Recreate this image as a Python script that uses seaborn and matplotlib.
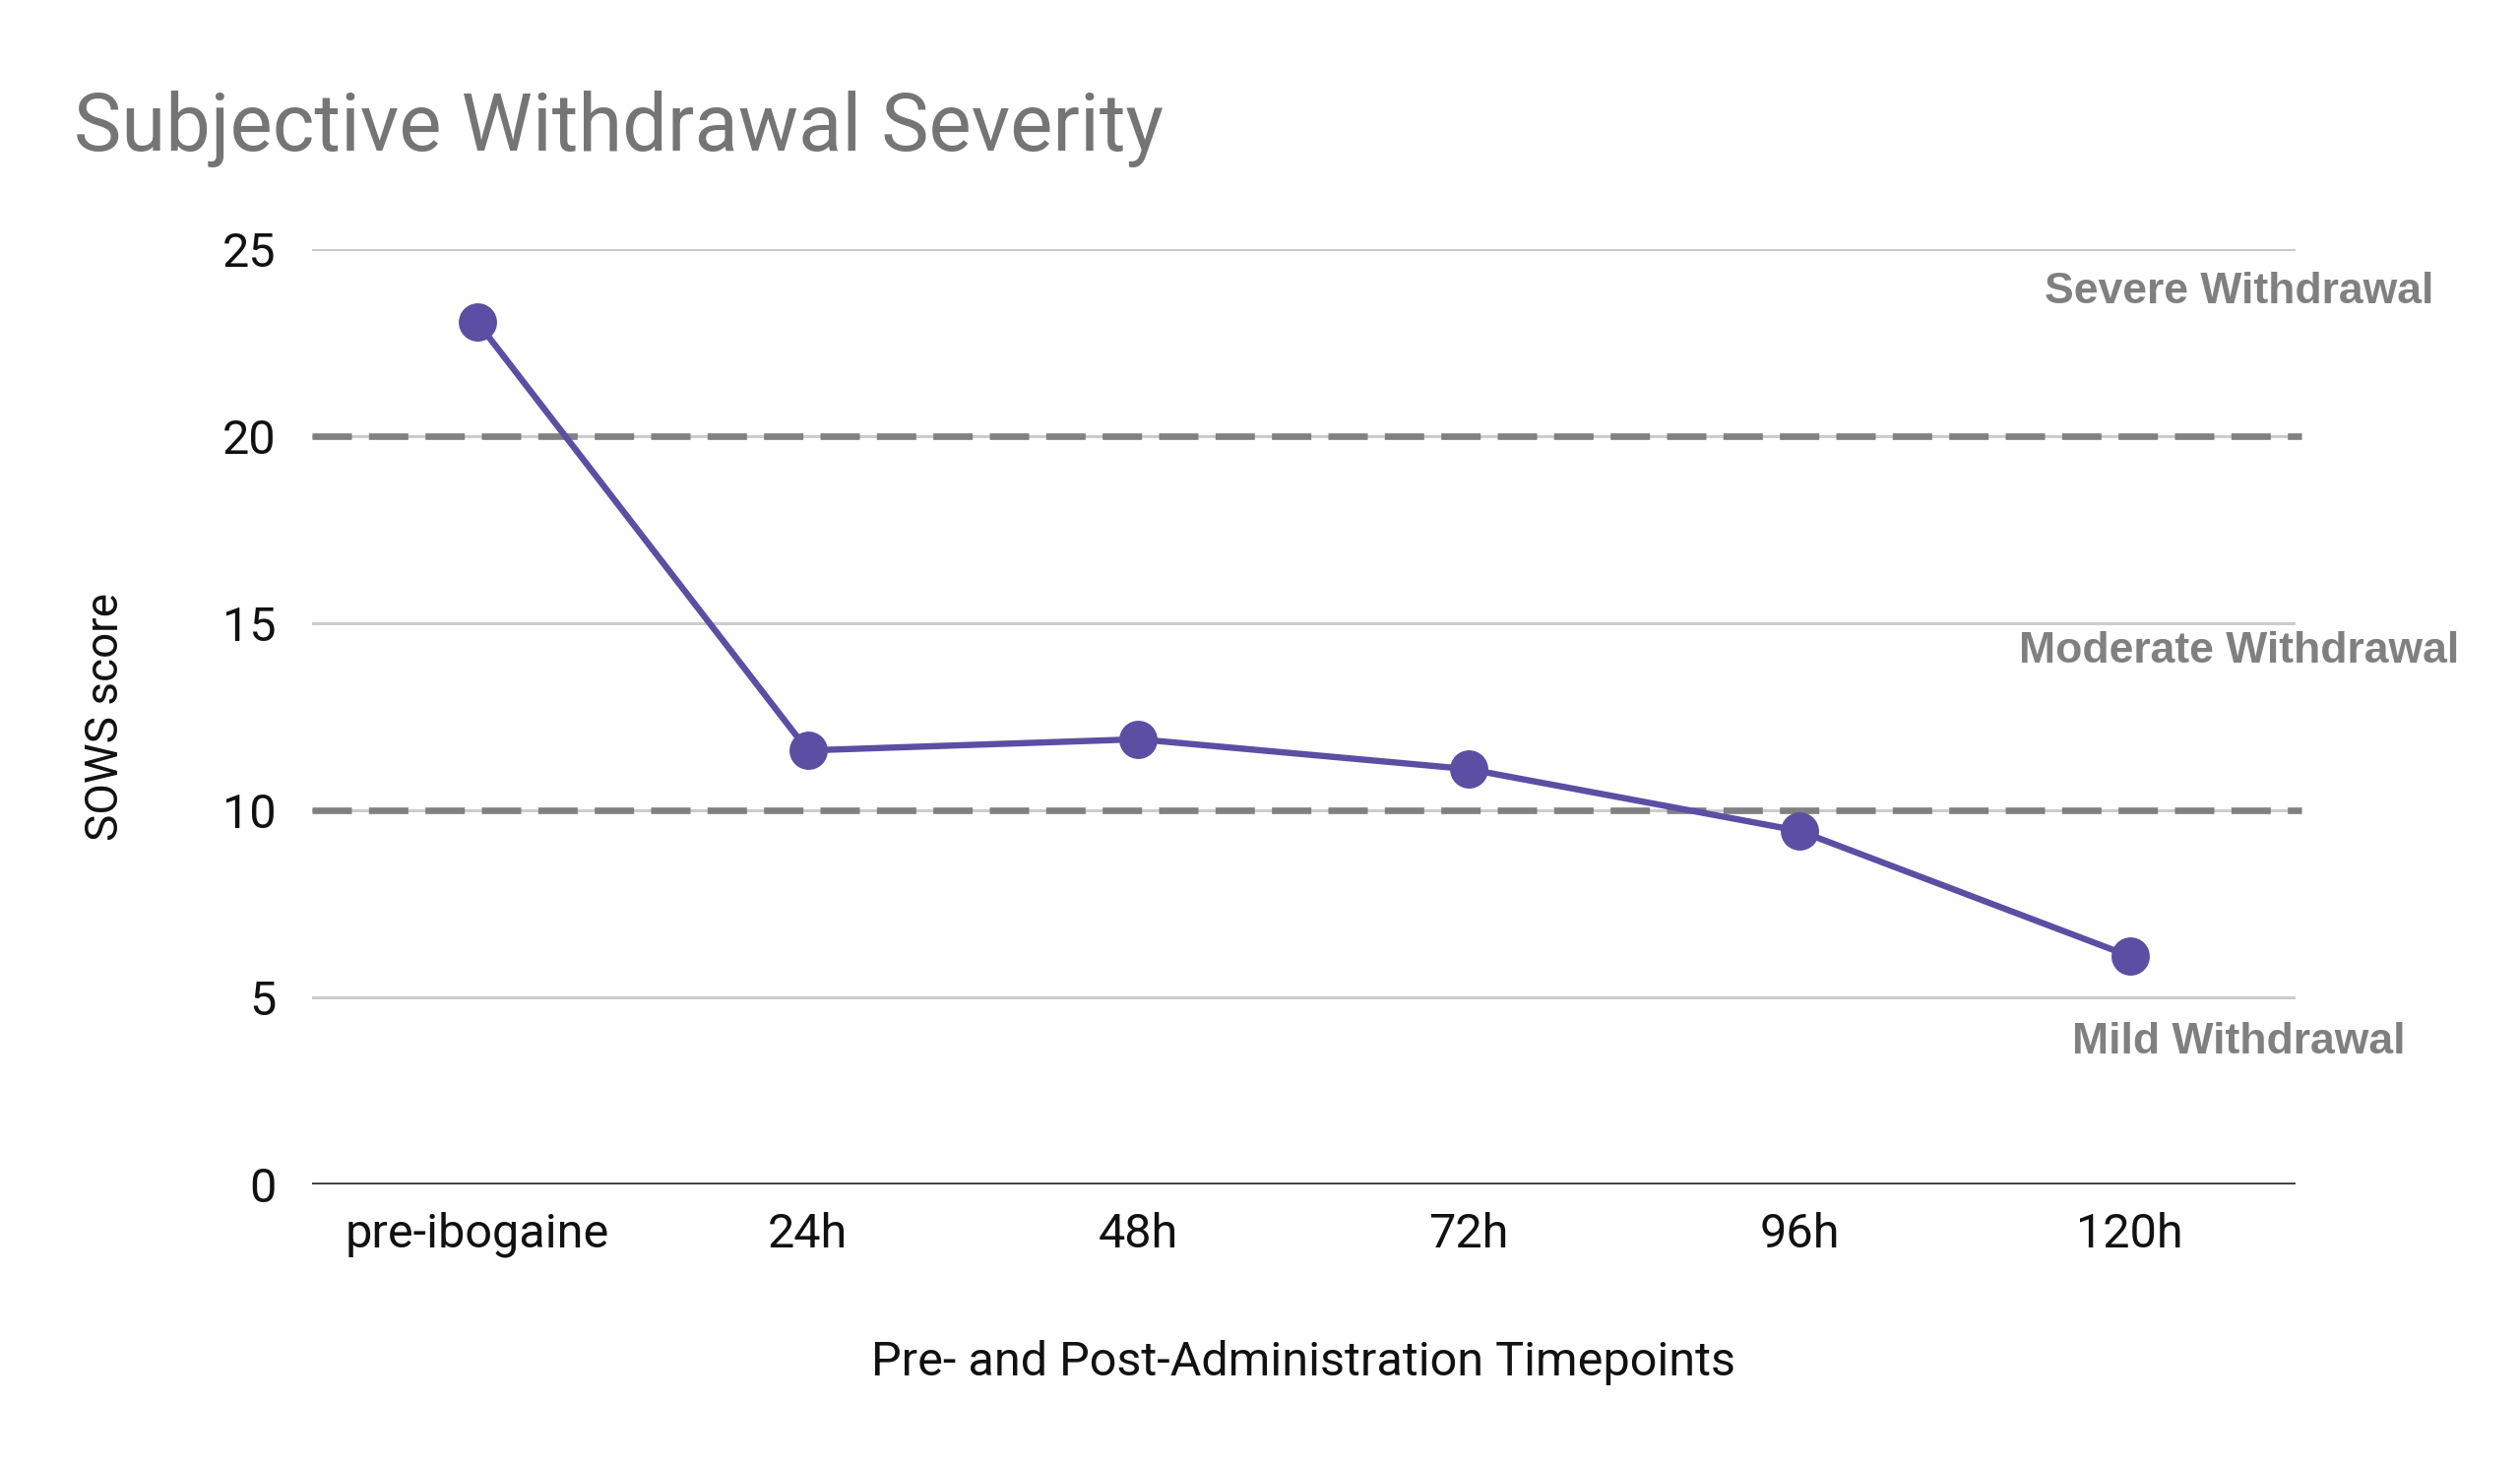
import seaborn as sns
import matplotlib.pyplot as plt
import pandas as pd

timepoints = ['pre-ibogaine', '24h', '48h', '72h', '96h', '120h']
sows_score = [23.05, 11.6, 11.9, 11.1, 9.45, 6.1]

thresholds = [10, 20]
zone_labels = ['Severe Withdrawal', 'Moderate Withdrawal', 'Mild Withdrawal']
zone_label_y = [23.85, 14.25, 3.8]

sns.set_style('white')
plt.rcParams['font.family'] = ['Roboto', 'DejaVu Sans']

df = pd.DataFrame({'timepoint': timepoints, 'score': sows_score})

fig = plt.figure(figsize=(12.8, 7.45), dpi=200)
ax = fig.add_axes([0.1238, 0.1926, 0.787, 0.6376])

# light grid, then the threshold dashes on top
for v in [5, 10, 15, 20, 25]:
    ax.axhline(v, color='#cccccc', lw=1.1, zorder=1)
for v in thresholds:
    ax.plot([-0.5, 5.52], [v, v], color='#808080', lw=2.4,
            dashes=(6.0, 2.6), zorder=2, clip_on=False)
ax.axhline(0, color='#333333', lw=1.3, zorder=2)

sns.lineplot(data=df, x='timepoint', y='score', sort=False, ax=ax,
             color='#5c4ea3', lw=2.3, marker='o', markersize=14,
             markeredgewidth=0, zorder=3)

ax.set_xlim(-0.5, 5.5)
ax.set_ylim(0, 25)
ax.set_yticks([0, 5, 10, 15, 20, 25])
for s in ax.spines.values():
    s.set_visible(False)
ax.tick_params(axis='both', length=0, labelsize=17.5, colors='#111111')
ax.tick_params(axis='x', pad=10)
ax.tick_params(axis='y', pad=13)

ax.set_xlabel('Pre- and Post-Administration Timepoints', fontsize=17.5,
              color='#111111', labelpad=30)
ax.set_ylabel('SOWS score', fontsize=16.5, color='#111111', labelpad=35)

for lab, y in zip(zone_labels, zone_label_y):
    ax.text(5.33, y, lab, ha='center', va='center', fontsize=16,
            fontweight='bold', color='#808080', family='Liberation Sans',
            clip_on=False)

fig.text(0.0293, 0.912, 'Subjective Withdrawal Severity', fontsize=29.3,
         color='#757575', va='center', ha='left')

fig.savefig('out.png', dpi=200, facecolor='white')
